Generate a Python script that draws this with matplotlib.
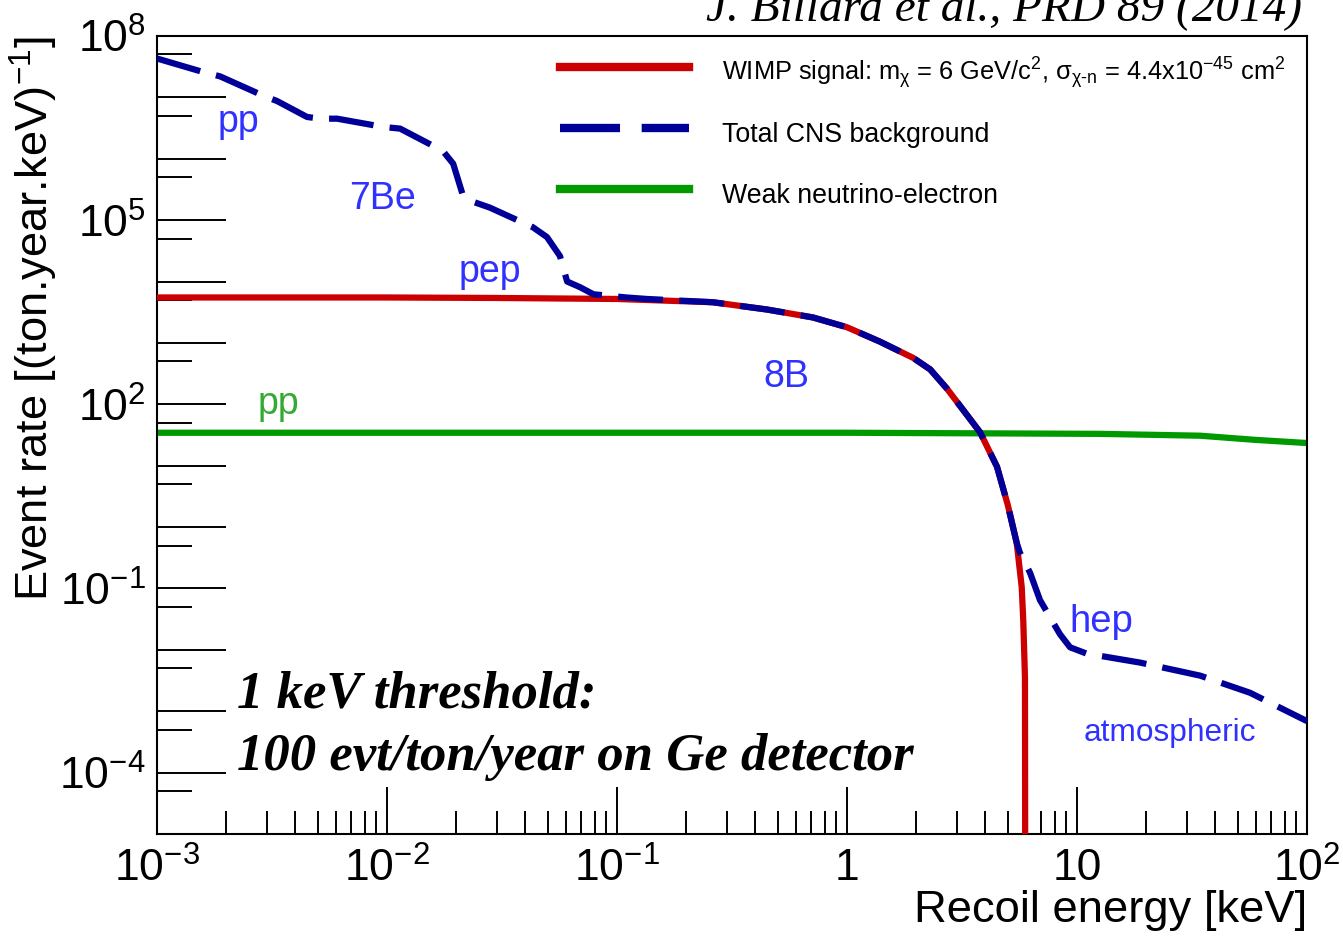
import numpy as np
import matplotlib.pyplot as plt
from matplotlib.ticker import LogLocator, NullFormatter

plt.rcParams['font.family'] = ['Liberation Sans', 'DejaVu Sans']
plt.rcParams['mathtext.fontset'] = 'custom'
plt.rcParams['mathtext.rm'] = 'Liberation Sans'
plt.rcParams['mathtext.it'] = 'Liberation Sans:italic'
plt.rcParams['mathtext.bf'] = 'Liberation Sans:bold'

# values (keV, events/ton/year/keV)
wimp_E = [1e-3, 1e-2, 3e-2, 0.1, 0.261, 0.449, 0.711, 1.0, 1.39, 1.94, 2.30, 2.72, 3.19,
          3.79, 4.49, 5.0, 5.47, 5.75, 5.84, 5.94, 5.96]
wimp_R = [5.5e3, 5.5e3, 5.4e3, 5.2e3, 4.6e3, 3.5e3, 2.6e3, 1.8e3, 1.05e3, 570, 3.7e2, 180, 82,
          35, 9.6, 2.3, 0.55, 0.105, 0.030, 3.5e-3, 1e-7]

cns_E = [1.0e-3, 1.58e-3, 1.88e-3, 2.89e-3, 3.33e-3, 4.49e-3, 5.11e-3, 6.07e-3, 9.62e-3,
         1.14e-2, 1.75e-2, 1.94e-2, 2.14e-2, 2.36e-2, 2.80e-2, 4.30e-2, 4.96e-2, 5.65e-2,
         6.07e-2, 6.90e-2, 7.90e-2, 0.11, 0.135, 0.261, 0.449, 0.711, 1.0, 1.39, 1.94, 2.30,
         2.72, 3.19, 3.79, 4.49, 5.0, 5.47, 5.65, 6.25, 6.90, 7.63, 8.43, 9.33, 11.0, 18.8,
         34.3, 56.5, 100]
cns_R = [4.3e7, 2.6e7, 2.2e7, 1.07e7, 8.7e6, 4.8e6, 4.5e6, 4.5e6, 3.3e6,
         3.1e6, 1.34e6, 8.3e5, 2.5e5, 2.0e5, 1.6e5, 7.7e4, 5.3e4, 2.6e4,
         1.0e4, 8.1e3, 6.2e3, 5.5e3, 5.2e3, 4.6e3, 3.5e3, 2.6e3, 1.8e3, 1.05e3, 570, 3.7e2,
         180, 82, 35, 9.6, 2.3, 0.55, 0.38, 0.18, 0.065, 0.034, 0.018, 0.011, 8.7e-3, 6.2e-3,
         3.8e-3, 2.0e-3, 6.9e-4]

nue_E = [1e-3, 1.0, 12.6, 34.3, 60, 100]
nue_R = [34.4, 34.4, 33, 30.8, 26.3, 23.4]

xtick_vals = [1e-3, 1e-2, 1e-1, 1, 10, 100]
xtick_labels = ['$10^{-3}$', '$10^{-2}$', '$10^{-1}$', '1', '10', '$10^{2}$']
ytick_exps = list(range(-5, 9))
ytick_shown = [8, 5, 2, -1, -4]

fig = plt.figure(figsize=(13.43, 9.36), dpi=100)
ax = fig.add_axes([157/1343, 1-834/936, 1150/1343, 798/936])

ax.plot(nue_E, nue_R, color='#009900', lw=4.5, label='Weak neutrino-electron', zorder=2)
ax.plot(wimp_E, wimp_R, color='#cc0000', lw=4.5,
        label=r'WIMP signal: m$_{\mathregular{χ}}$ = 6 GeV/c$^{2}$, σ$_{\mathregular{χ‐n}}$ = 4.4x10$^{-45}$ cm$^{2}$',
        zorder=3)
ax.plot(cns_E, cns_R, color='#000099', lw=4.5, dashes=(7.2, 2.6), dash_capstyle='butt',
        label='Total CNS background', zorder=4)

ax.set_xscale('log')
ax.set_yscale('log')
ax.set_xlim(1e-3, 1e2)
ax.set_ylim(1e-5, 1e8)

ax.set_xticks(xtick_vals, labels=xtick_labels)
ax.xaxis.set_minor_locator(LogLocator(base=10, subs=np.arange(2, 10), numticks=50))
ax.xaxis.set_minor_formatter(NullFormatter())
ax.set_yticks([10.0**k for k in ytick_exps],
              labels=['$10^{%d}$' % k if k in ytick_shown else '' for k in ytick_exps])
ax.yaxis.set_minor_locator(LogLocator(base=10, subs=(5.0,), numticks=50))
ax.yaxis.set_minor_formatter(NullFormatter())

ax.tick_params(which='both', direction='in', width=1.4, color='black', labelsize=32)
ax.tick_params(axis='y', which='major', length=50, pad=8)
ax.tick_params(axis='y', which='minor', length=25)
ax.tick_params(axis='x', which='major', length=34, pad=10)
ax.tick_params(axis='x', which='minor', length=16.5)
for s in ax.spines.values():
    s.set_linewidth(1.5)

ax.set_xlabel('Recoil energy [keV]', fontsize=32.7, loc='right')
ax.xaxis.set_label_coords(1.0, -0.07)
ax.set_ylabel('Event rate [(ton.year.keV)$^{-1}$]', fontsize=32.6, loc='top')
ax.yaxis.set_label_coords(-0.084, 1.0)

h, l = ax.get_legend_handles_labels()
order = [1, 2, 0]
leg = ax.legend([h[i] for i in order], [l[i] for i in order], loc='upper left',
                bbox_to_anchor=((560-157)/1150, 0.979), frameon=False, fontsize=19.3,
                handlelength=4.8, handleheight=1.8, handletextpad=1.25, labelspacing=0.87,
                borderpad=0, borderaxespad=0)
for line in leg.get_lines():
    line.set_linewidth(6)
leg.get_texts()[0].set_fontsize(18.3)

blue_txt = '#3030ff'
ax.text(2.25e-3, 2.74e6, 'pp', color=blue_txt, fontsize=27, ha='center', va='baseline')
ax.text(9.6e-3, 1.5e5, '7Be', color=blue_txt, fontsize=27, ha='center', va='baseline')
ax.text(2.8e-2, 1.0e4, 'pep', color=blue_txt, fontsize=27, ha='center', va='baseline')
ax.text(0.543, 195, '8B', color=blue_txt, fontsize=27, ha='center', va='baseline')
ax.text(12.7, 0.0192, 'hep', color=blue_txt, fontsize=27.5, ha='center', va='baseline')
ax.text(25.4, 3.3e-4, 'atmospheric', color=blue_txt, fontsize=22.8, ha='center', va='baseline')
ax.text(3.36e-3, 70, 'pp', color='#33aa33', fontsize=27, ha='center', va='baseline')

ax.text(0.0696, 0.159, '1 keV threshold:', transform=ax.transAxes, fontsize=38,
        family='Liberation Serif', weight='bold', style='italic', va='baseline')
ax.text(0.0696, 0.080, '100 evt/ton/year on Ge detector', transform=ax.transAxes, fontsize=38,
        family='Liberation Serif', weight='bold', style='italic', va='baseline')

# the reference cuts this citation off at the top edge
fig.text(1302/1343, 1-20/936, 'J. Billard et al., PRD 89 (2014)', fontsize=34,
         family='Liberation Serif', style='italic', ha='right', va='baseline')

fig.savefig('out.png', dpi=100)
